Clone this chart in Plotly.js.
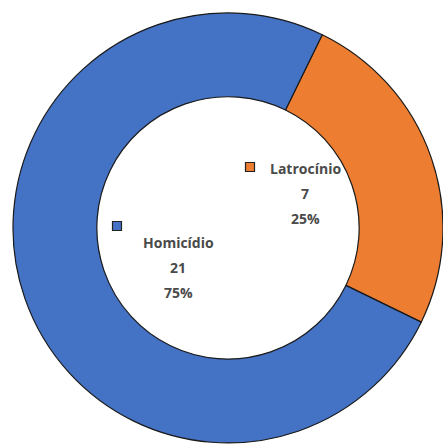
<!DOCTYPE html>
<html>
<head>
<meta charset="utf-8">
<script src="https://cdn.plot.ly/plotly-3.0.1.min.js"></script>
<style>html,body{margin:0;padding:0;background:#fff;}#chart{width:443px;height:446px;}</style>
</head>
<body>
<div id="chart"></div>
<script>
const categories = ["Latrocínio", "Homicídio"];
const values = [7, 21];
const colors = ["#ED7D31", "#4472C4"];

const W = 443, H = 446;
const total = values.reduce((a, b) => a + b, 0);
const percents = values.map(v => Math.round(v / total * 100) + "%");

// label block positions (pixels) for each category
const labelPos = [{x: 305, y: 168, sq: [250, 167]}, {x: 178, y: 242, sq: [117, 226]}];
const lineGap = 25;
const font = {family: "Open Sans, Liberation Sans, sans-serif", size: 14, color: "#4a4a4a", weight: "bold"};

const annotations = [];
const shapes = [];
categories.forEach((c, i) => {
  const lines = [c, String(values[i]), percents[i]];
  lines.forEach((t, k) => {
    annotations.push({
      xref: "paper", yref: "paper",
      x: labelPos[i].x / W, y: 1 - (labelPos[i].y + k * lineGap) / H,
      text: "<b>" + t + "</b>", showarrow: false,
      xanchor: "center", yanchor: "middle", font: font
    });
  });
  const s = 4.5, cx = labelPos[i].sq[0], cy = labelPos[i].sq[1];
  shapes.push({
    type: "rect", xref: "paper", yref: "paper",
    x0: (cx - s) / W, x1: (cx + s) / W, y0: 1 - (cy + s) / H, y1: 1 - (cy - s) / H,
    fillcolor: colors[i], line: {color: "#222", width: 1.2}
  });
});

const data = [{
  type: "pie",
  labels: categories,
  values: values,
  sort: false,
  direction: "clockwise",
  rotation: 26,
  hole: 0.61,
  textinfo: "none",
  hoverinfo: "none",
  marker: {colors: colors, line: {color: "#1a1a1a", width: 1.2}},
  domain: {x: [13 / W, 1], y: [0.005, 0.973]}
}];

const layout = {
  width: W, height: H,
  margin: {l: 0, r: 0, t: 0, b: 0},
  showlegend: false,
  paper_bgcolor: "#ffffff",
  annotations: annotations,
  shapes: shapes
};

Plotly.newPlot("chart", data, layout, {displayModeBar: false, staticPlot: true});
</script>
</body>
</html>
